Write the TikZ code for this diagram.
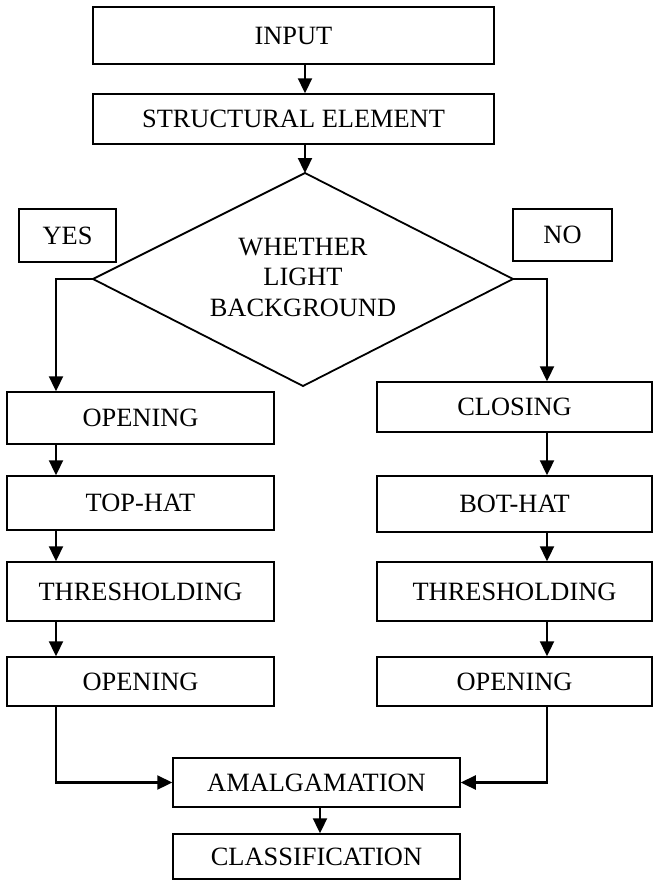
\documentclass[tikz,border=0pt]{standalone}
\usepackage{fontspec}
\setmainfont{Liberation Serif}
\usetikzlibrary{arrows.meta}
\begin{document}
\begin{tikzpicture}[x=1pt,y=-1pt,
  box/.style={draw=black,line width=1.5pt,rectangle,inner sep=0pt,
    font=\fontsize{26.4}{30.5}\selectfont},
  conn/.style={line width=2.3pt,-{Triangle[length=15pt,width=14pt]}},
  plain/.style={line width=2.3pt}]
\useasboundingbox (0,0) rectangle (654,881);
% top boxes
\node[box,minimum width=401pt,minimum height=57pt] (in) at (293.5,35.5) {INPUT};
\node[box,minimum width=401pt,minimum height=50pt] (se) at (293.5,119) {STRUCTURAL ELEMENT};
% decision
\coordinate (dt) at (305,173);
\coordinate (dl) at (93,279);
\coordinate (dr) at (513,279);
\coordinate (db) at (303,386);
\draw[line width=1.8pt,line join=miter] (dt) -- (dr) -- (db) -- (dl) -- cycle;
\node[align=center,inner sep=0pt,font=\fontsize{26.4}{30.5}\selectfont] (dec) at (303,277) {WHETHER\\LIGHT\\BACKGROUND};
\node[box,minimum width=97pt,minimum height=53pt] (yes) at (67.5,235.5) {YES};
\node[box,minimum width=99pt,minimum height=52pt] (no) at (562.5,235) {NO};
% columns
\coordinate (lcol) at (56,0);
\coordinate (rcol) at (547,0);
\coordinate (mid) at (305,0);
% left column
\node[box,minimum width=267pt,minimum height=52pt] (op1) at (140.5,418) {OPENING};
\node[box,minimum width=267pt,minimum height=54pt] (th) at (140.5,503) {TOP-HAT};
\node[box,minimum width=267pt,minimum height=59pt] (thr1) at (140.5,591.5) {THRESHOLDING};
\node[box,minimum width=267pt,minimum height=49pt] (op2) at (140.5,681.5) {OPENING};
% right column
\node[box,minimum width=275pt,minimum height=50pt] (cl) at (514.5,407) {CLOSING};
\node[box,minimum width=275pt,minimum height=56pt] (bh) at (514.5,504) {BOT-HAT};
\node[box,minimum width=275pt,minimum height=59pt] (thr2) at (514.5,591.5) {THRESHOLDING};
\node[box,minimum width=275pt,minimum height=49pt] (op3) at (514.5,681.5) {OPENING};
% bottom
\node[box,minimum width=287pt,minimum height=49pt] (am) at (316.5,782.5) {AMALGAMATION};
\node[box,minimum width=287pt,minimum height=45pt] (cls) at (316.5,856.5) {CLASSIFICATION};
\coordinate (amx) at (320,0);
% connectors
\draw[conn] (in.south -| mid) -- (se.north -| mid);
\draw[conn] (se.south -| mid) -- (dt);
\draw[conn] (dl) -| (op1.north -| lcol);
\draw[conn] (dr) -| (cl.north -| rcol);
\draw[conn] (op1.south -| lcol) -- (th.north -| lcol);
\draw[conn] (th.south -| lcol) -- (thr1.north -| lcol);
\draw[conn] (thr1.south -| lcol) -- (op2.north -| lcol);
\draw[conn] (cl.south -| rcol) -- (bh.north -| rcol);
\draw[conn] (bh.south -| rcol) -- (thr2.north -| rcol);
\draw[conn] (thr2.south -| rcol) -- (op3.north -| rcol);
\draw[conn] (op2.south -| lcol) |- (am.west);
\draw[conn] (op3.south -| rcol) |- (am.east);
\draw[conn] (am.south -| amx) -- (cls.north -| amx);
\end{tikzpicture}
\end{document}
